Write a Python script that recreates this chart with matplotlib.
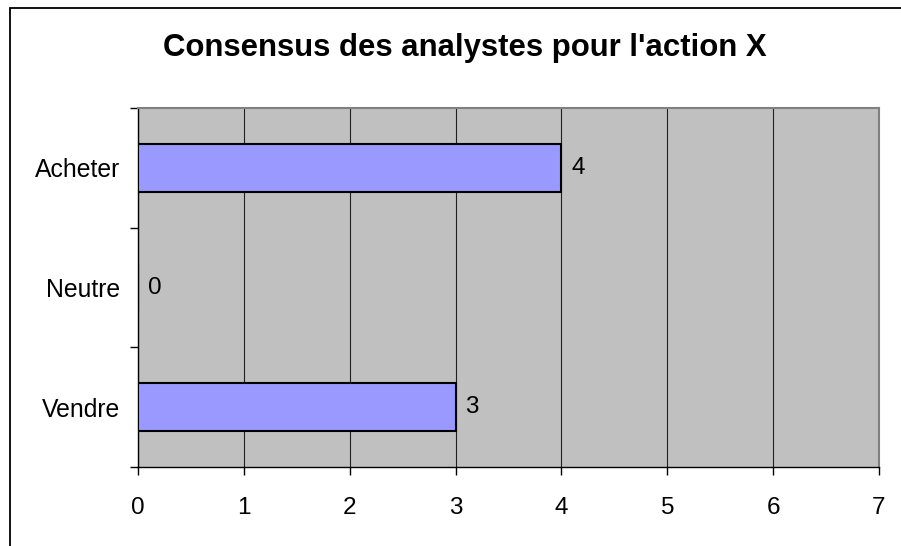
import numpy as np
import matplotlib.pyplot as plt
from matplotlib.patches import Rectangle

plt.rcParams['font.family'] = ['Liberation Sans', 'DejaVu Sans']

# data
categories = ['Vendre', 'Neutre', 'Acheter']
votes = [3, 0, 4]
x_ticks = [0, 1, 2, 3, 4, 5, 6, 7]
title = "Consensus des analystes pour l'action X"

fig = plt.figure(figsize=(9.01, 5.46), dpi=100)
ax = fig.add_axes([138/901, 1-467/546, (879-138)/901, (467-108)/546])
ax.set_facecolor('#C0C0C0')

# outer chart frame
fig.patches.append(Rectangle((9.5/901, -0.1), 1.2, 1.1 - 7.5/546,
                             transform=fig.transFigure, fill=False,
                             edgecolor='black', linewidth=1.3))

ypos = np.arange(len(categories))
ax.barh(ypos, votes, height=0.4, color='#9999FF', edgecolor='black',
        linewidth=1.5, zorder=3)

for y, v in zip(ypos, votes):
    ax.annotate(str(v), (v, y), textcoords='offset points', xytext=(7, 0),
                ha='left', va='center', fontsize=17.5)

ax.set_xlim(0, 7)
ax.set_ylim(-0.5, 2.5)
ax.set_xticks(x_ticks)
ax.set_yticks(ypos)
ax.set_yticklabels(categories)
ax.set_yticks(np.arange(-0.5, 3, 1), minor=True)
ax.tick_params(axis='y', which='major', length=0, pad=13, labelsize=17.8)
ax.tick_params(axis='y', which='minor', length=5.5, width=1, direction='out')
ax.tick_params(axis='x', length=5.5, width=1, pad=16, labelsize=17.5)

ax.xaxis.grid(True, color='#202020', linewidth=0.8)
ax.set_axisbelow(True)

for s in ['top', 'right']:
    ax.spines[s].set_color('#808080')
    ax.spines[s].set_linewidth(1.5)
for s in ['left', 'bottom']:
    ax.spines[s].set_color('black')
    ax.spines[s].set_linewidth(1)

fig.text(0.5 * (165 + 765) / 901, 1 - 48/546, title, ha='center', va='center',
         fontsize=22.4, fontweight='bold')

plt.savefig('out.png', dpi=100)
